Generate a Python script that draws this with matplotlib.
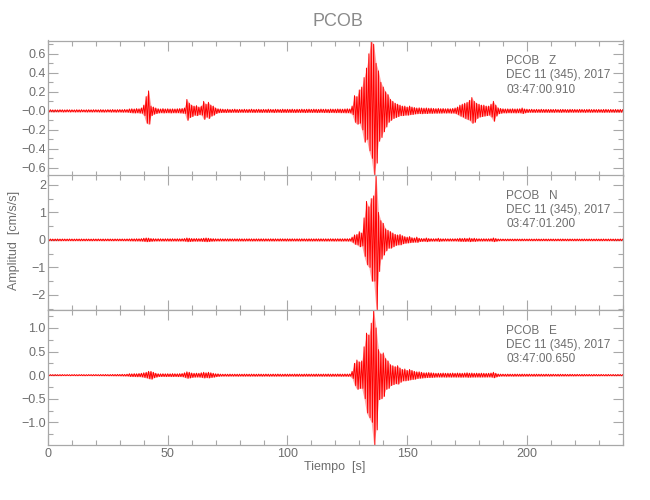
import matplotlib
matplotlib.use('Agg')
import matplotlib.pyplot as plt
from matplotlib.ticker import MultipleLocator, FixedLocator, FixedFormatter
import numpy as np

plt.rcParams['font.family'] = ['Liberation Sans', 'DejaVu Sans']

# ---------------- data ----------------
time_s = list(range(241))  # one envelope sample per second, 0..240 s

z_up = [0.010,0.012,0.010,0.011,0.010,0.012,0.011,0.010,0.012,0.011,
        0.011,0.010,0.012,0.011,0.012,0.010,0.011,0.012,0.011,0.012,
        0.012,0.011,0.013,0.012,0.011,0.013,0.012,0.014,0.012,0.013,
        0.014,0.013,0.015,0.014,0.020,0.022,0.020,0.024,0.022,0.030,
        0.060,0.150,0.210,0.050,0.040,0.030,0.022,0.020,0.024,0.020,
        0.022,0.020,0.021,0.020,0.022,0.024,0.025,0.030,0.120,0.080,
        0.060,0.050,0.055,0.040,0.050,0.100,0.070,0.090,0.060,0.050,
        0.030,0.022,0.020,0.018,0.016,0.018,0.015,0.016,0.018,0.015,
        0.016,0.015,0.017,0.015,0.016,0.018,0.015,0.016,0.017,0.015,
        0.016,0.015,0.018,0.016,0.015,0.017,0.016,0.015,0.018,0.016,
        0.017,0.016,0.018,0.015,0.017,0.016,0.018,0.016,0.017,0.018,
        0.016,0.018,0.017,0.016,0.019,0.017,0.018,0.016,0.019,0.018,
        0.018,0.020,0.019,0.018,0.020,0.022,0.020,0.050,0.160,0.150,
        0.220,0.250,0.350,0.450,0.600,0.740,0.700,0.500,0.420,0.300,
        0.250,0.200,0.170,0.120,0.100,0.080,0.070,0.060,0.050,0.050,
        0.040,0.050,0.040,0.035,0.030,0.032,0.030,0.028,0.030,0.027,
        0.028,0.025,0.024,0.026,0.023,0.025,0.022,0.024,0.022,0.025,
        0.030,0.040,0.060,0.070,0.080,0.090,0.110,0.140,0.100,0.080,
        0.070,0.060,0.060,0.050,0.050,0.070,0.100,0.060,0.030,0.025,
        0.022,0.020,0.021,0.020,0.022,0.020,0.021,0.022,0.030,0.020,
        0.018,0.016,0.017,0.015,0.016,0.015,0.017,0.015,0.016,0.015,
        0.016,0.015,0.016,0.014,0.015,0.016,0.015,0.014,0.016,0.015,
        0.015,0.014,0.016,0.015,0.014,0.015,0.016,0.014,0.015,0.014,
        0.015,0.014,0.015,0.016,0.014,0.015,0.014,0.015,0.014,0.015,
        0.014]
z_lo = [0.011,0.010,0.012,0.010,0.011,0.010,0.012,0.011,0.010,0.012,
        0.010,0.012,0.011,0.012,0.010,0.011,0.012,0.011,0.012,0.011,
        0.011,0.012,0.012,0.013,0.012,0.011,0.013,0.012,0.014,0.012,
        0.013,0.014,0.013,0.015,0.018,0.021,0.022,0.020,0.023,0.025,
        0.050,0.130,0.140,0.050,0.035,0.028,0.022,0.020,0.022,0.020,
        0.020,0.022,0.020,0.021,0.020,0.022,0.024,0.028,0.100,0.070,
        0.060,0.045,0.050,0.040,0.045,0.090,0.065,0.080,0.055,0.045,
        0.028,0.020,0.018,0.017,0.018,0.016,0.017,0.015,0.016,0.017,
        0.015,0.016,0.015,0.017,0.015,0.016,0.017,0.015,0.016,0.017,
        0.015,0.017,0.016,0.015,0.018,0.016,0.015,0.017,0.016,0.017,
        0.016,0.017,0.016,0.018,0.016,0.017,0.016,0.018,0.017,0.016,
        0.017,0.016,0.018,0.017,0.016,0.018,0.017,0.019,0.017,0.018,
        0.019,0.018,0.020,0.019,0.021,0.020,0.022,0.040,0.120,0.140,
        0.130,0.200,0.330,0.300,0.420,0.500,0.680,0.550,0.320,0.280,
        0.220,0.170,0.120,0.100,0.080,0.070,0.060,0.050,0.050,0.045,
        0.045,0.040,0.038,0.032,0.030,0.028,0.030,0.027,0.028,0.025,
        0.026,0.024,0.025,0.023,0.024,0.022,0.023,0.022,0.024,0.023,
        0.028,0.040,0.055,0.065,0.080,0.090,0.100,0.130,0.120,0.080,
        0.065,0.060,0.055,0.050,0.045,0.065,0.110,0.055,0.030,0.025,
        0.021,0.022,0.020,0.021,0.020,0.022,0.020,0.021,0.028,0.021,
        0.017,0.015,0.016,0.016,0.015,0.016,0.015,0.016,0.015,0.016,
        0.015,0.016,0.014,0.015,0.016,0.014,0.015,0.016,0.014,0.015,
        0.014,0.015,0.015,0.014,0.016,0.014,0.015,0.015,0.014,0.015,
        0.014,0.015,0.016,0.014,0.015,0.014,0.015,0.014,0.015,0.014,
        0.015]

n_up = [0.030,0.032,0.030,0.031,0.033,0.030,0.032,0.031,0.030,0.033,
        0.031,0.030,0.032,0.031,0.033,0.030,0.032,0.031,0.030,0.032,
        0.031,0.033,0.030,0.032,0.031,0.033,0.032,0.030,0.033,0.031,
        0.032,0.033,0.031,0.034,0.035,0.040,0.038,0.042,0.040,0.045,
        0.060,0.070,0.065,0.050,0.045,0.040,0.042,0.040,0.038,0.040,
        0.041,0.040,0.042,0.039,0.041,0.040,0.042,0.050,0.070,0.060,
        0.050,0.048,0.050,0.046,0.050,0.060,0.070,0.060,0.050,0.045,
        0.040,0.038,0.040,0.037,0.039,0.038,0.040,0.037,0.039,0.038,
        0.040,0.038,0.037,0.039,0.040,0.038,0.037,0.039,0.038,0.040,
        0.038,0.039,0.037,0.040,0.038,0.039,0.037,0.040,0.039,0.038,
        0.039,0.038,0.040,0.037,0.039,0.038,0.040,0.039,0.037,0.040,
        0.039,0.038,0.040,0.039,0.041,0.038,0.040,0.039,0.041,0.040,
        0.040,0.042,0.041,0.040,0.043,0.042,0.045,0.100,0.180,0.200,
        0.300,0.250,0.800,1.400,1.200,1.500,1.600,2.360,1.000,0.700,
        0.600,0.400,0.350,0.300,0.250,0.200,0.180,0.200,0.150,0.120,
        0.100,0.120,0.080,0.070,0.100,0.060,0.050,0.050,0.070,0.050,
        0.045,0.042,0.045,0.060,0.042,0.040,0.042,0.040,0.041,0.040,
        0.042,0.045,0.060,0.050,0.060,0.050,0.070,0.050,0.060,0.045,
        0.042,0.040,0.042,0.040,0.041,0.045,0.070,0.050,0.035,0.032,
        0.031,0.030,0.032,0.031,0.030,0.032,0.031,0.030,0.032,0.031,
        0.030,0.032,0.031,0.030,0.033,0.031,0.030,0.032,0.031,0.030,
        0.032,0.031,0.030,0.032,0.031,0.033,0.030,0.031,0.032,0.030,
        0.031,0.032,0.030,0.031,0.033,0.030,0.032,0.031,0.030,0.032,
        0.030,0.031,0.032,0.030,0.031,0.032,0.030,0.031,0.030,0.032,
        0.031]
n_lo = [0.031,0.030,0.032,0.030,0.031,0.033,0.030,0.032,0.031,0.030,
        0.032,0.031,0.030,0.033,0.031,0.032,0.030,0.031,0.033,0.030,
        0.032,0.030,0.031,0.033,0.030,0.032,0.031,0.033,0.030,0.032,
        0.031,0.032,0.033,0.032,0.036,0.038,0.040,0.039,0.042,0.044,
        0.055,0.065,0.060,0.050,0.042,0.041,0.040,0.039,0.040,0.038,
        0.040,0.042,0.039,0.041,0.040,0.042,0.040,0.048,0.065,0.058,
        0.052,0.046,0.048,0.047,0.050,0.058,0.065,0.058,0.048,0.044,
        0.039,0.040,0.038,0.039,0.037,0.040,0.038,0.039,0.037,0.040,
        0.038,0.040,0.039,0.037,0.038,0.040,0.039,0.037,0.040,0.038,
        0.040,0.037,0.039,0.038,0.040,0.037,0.039,0.038,0.037,0.040,
        0.038,0.040,0.037,0.039,0.038,0.040,0.037,0.038,0.040,0.039,
        0.040,0.039,0.038,0.041,0.039,0.040,0.041,0.040,0.039,0.042,
        0.041,0.040,0.043,0.042,0.041,0.044,0.043,0.090,0.160,0.180,
        0.250,0.220,0.600,0.900,1.000,1.500,1.500,2.550,1.150,0.700,
        0.550,0.400,0.300,0.300,0.250,0.200,0.180,0.180,0.140,0.120,
        0.110,0.100,0.090,0.080,0.090,0.060,0.055,0.050,0.065,0.050,
        0.044,0.045,0.042,0.055,0.045,0.041,0.040,0.042,0.040,0.041,
        0.040,0.046,0.055,0.052,0.058,0.048,0.065,0.052,0.055,0.044,
        0.041,0.042,0.040,0.041,0.042,0.044,0.065,0.048,0.034,0.031,
        0.030,0.032,0.031,0.030,0.032,0.031,0.030,0.032,0.031,0.030,
        0.031,0.030,0.032,0.031,0.030,0.032,0.031,0.030,0.032,0.031,
        0.030,0.032,0.031,0.030,0.032,0.030,0.031,0.032,0.030,0.031,
        0.032,0.030,0.031,0.032,0.030,0.031,0.030,0.032,0.031,0.030,
        0.031,0.032,0.030,0.031,0.032,0.030,0.031,0.032,0.031,0.030,
        0.032]

e_up = [0.010,0.011,0.010,0.012,0.010,0.011,0.012,0.010,0.011,0.010,
        0.011,0.012,0.010,0.011,0.012,0.011,0.010,0.012,0.011,0.012,
        0.012,0.011,0.013,0.012,0.014,0.012,0.013,0.015,0.014,0.016,
        0.015,0.018,0.016,0.020,0.030,0.028,0.032,0.030,0.035,0.040,
        0.050,0.060,0.080,0.080,0.060,0.040,0.030,0.028,0.030,0.028,
        0.030,0.028,0.032,0.030,0.028,0.032,0.035,0.050,0.070,0.060,
        0.045,0.040,0.042,0.040,0.050,0.060,0.050,0.060,0.050,0.040,
        0.030,0.028,0.022,0.020,0.021,0.020,0.022,0.020,0.021,0.020,
        0.021,0.020,0.022,0.021,0.020,0.022,0.021,0.020,0.022,0.021,
        0.020,0.022,0.021,0.020,0.022,0.021,0.023,0.021,0.020,0.022,
        0.021,0.022,0.020,0.023,0.021,0.022,0.020,0.022,0.023,0.021,
        0.022,0.021,0.023,0.022,0.021,0.023,0.022,0.024,0.022,0.023,
        0.022,0.024,0.023,0.022,0.024,0.023,0.025,0.080,0.250,0.320,
        0.280,0.300,0.600,0.890,0.850,1.100,1.380,1.000,0.540,0.450,
        0.470,0.350,0.300,0.220,0.200,0.180,0.200,0.150,0.120,0.130,
        0.100,0.120,0.100,0.080,0.070,0.070,0.060,0.050,0.050,0.055,
        0.050,0.045,0.040,0.042,0.040,0.045,0.040,0.042,0.040,0.045,
        0.040,0.045,0.042,0.040,0.045,0.050,0.042,0.045,0.040,0.042,
        0.040,0.042,0.040,0.038,0.040,0.045,0.060,0.040,0.025,0.022,
        0.021,0.020,0.022,0.021,0.020,0.022,0.021,0.020,0.022,0.021,
        0.020,0.021,0.019,0.020,0.021,0.019,0.020,0.018,0.020,0.019,
        0.018,0.019,0.017,0.018,0.019,0.017,0.018,0.016,0.018,0.017,
        0.016,0.017,0.015,0.016,0.017,0.015,0.016,0.014,0.016,0.015,
        0.014,0.015,0.013,0.014,0.015,0.013,0.014,0.012,0.014,0.013,
        0.012]
e_lo = [0.011,0.010,0.012,0.010,0.011,0.012,0.010,0.011,0.010,0.012,
        0.010,0.011,0.012,0.010,0.011,0.012,0.011,0.010,0.012,0.011,
        0.011,0.012,0.012,0.013,0.012,0.014,0.013,0.014,0.015,0.014,
        0.016,0.017,0.018,0.019,0.028,0.030,0.030,0.033,0.032,0.038,
        0.048,0.058,0.075,0.085,0.055,0.042,0.030,0.029,0.028,0.030,
        0.028,0.030,0.030,0.028,0.031,0.030,0.034,0.048,0.065,0.058,
        0.048,0.042,0.040,0.042,0.048,0.058,0.052,0.058,0.048,0.042,
        0.032,0.026,0.021,0.021,0.020,0.022,0.020,0.021,0.020,0.022,
        0.020,0.021,0.021,0.020,0.022,0.020,0.022,0.021,0.020,0.022,
        0.021,0.020,0.022,0.021,0.021,0.022,0.020,0.022,0.021,0.021,
        0.022,0.020,0.021,0.022,0.022,0.021,0.023,0.021,0.022,0.022,
        0.021,0.023,0.022,0.021,0.023,0.022,0.023,0.022,0.024,0.022,
        0.023,0.022,0.024,0.023,0.023,0.024,0.024,0.070,0.220,0.300,
        0.280,0.280,0.500,0.800,0.900,1.000,1.480,1.160,0.520,0.500,
        0.450,0.300,0.280,0.220,0.200,0.180,0.190,0.150,0.120,0.120,
        0.110,0.100,0.090,0.085,0.070,0.065,0.060,0.055,0.050,0.050,
        0.048,0.045,0.042,0.040,0.042,0.040,0.043,0.040,0.042,0.040,
        0.042,0.040,0.044,0.042,0.040,0.046,0.044,0.042,0.041,0.040,
        0.042,0.040,0.041,0.040,0.038,0.042,0.055,0.038,0.024,0.021,
        0.020,0.022,0.021,0.020,0.022,0.021,0.020,0.022,0.021,0.020,
        0.021,0.019,0.020,0.021,0.019,0.020,0.019,0.020,0.018,0.020,
        0.019,0.017,0.018,0.019,0.017,0.018,0.017,0.018,0.016,0.017,
        0.017,0.015,0.016,0.017,0.015,0.016,0.015,0.016,0.014,0.015,
        0.015,0.013,0.014,0.015,0.013,0.014,0.013,0.014,0.012,0.013,
        0.013]

components = ["Z", "N", "E"]
start_times = ["03:47:00.910", "03:47:01.200", "03:47:00.650"]
station = "PCOB"
date_label = "DEC 11 (345), 2017"
y_limits = [(-0.68, 0.74), (-2.55, 2.36), (-1.48, 1.38)]
y_major_ticks = [[-0.6, -0.4, -0.2, 0.0, 0.2, 0.4, 0.6],
                 [-2, -1, 0, 1, 2],
                 [-1.0, -0.5, 0.0, 0.5, 1.0]]
y_tick_labels = [["\u22120.6", "\u22120.4", "\u22120.2", "\u22120.0", "0.2", "0.4", "0.6"],
                 ["\u22122", "\u22121", "0", "1", "2"],
                 ["\u22121.0", "\u22120.5", "0.0", "0.5", "1.0"]]
y_minor_step = [0.1, 0.5, 0.25]
x_major_ticks = [0, 50, 100, 150, 200]
x_tick_labels = ["0", "50", "100", "150", "200"]

# ---------------- drawing ----------------
AX_COL = "#a8a8a8"
TXT_COL = "#6e6e6e"
RED = "#ff0000"

fig = plt.figure(figsize=(6.5, 5.0), dpi=100)
left, width = 48 / 650, (622.7 - 48) / 650
tops = [40.5, 175, 310]
h = 135

series = [(z_up, z_lo), (n_up, n_lo), (e_up, e_lo)]
for i in range(3):
    bottom = 1 - (tops[i] + h) / 500
    ax = fig.add_axes([left, bottom, width, h / 500])
    up, lo = series[i]
    t = np.asarray(time_s, float)
    upa = np.asarray(up)
    loa = -np.asarray(lo)
    # light envelope fill
    ax.fill_between(t, loa, upa, color=RED, alpha=0.35, lw=0)
    # oscillating trace between the envelope values
    xs = np.empty(2 * len(t))
    ys = np.empty(2 * len(t))
    xs[0::2] = t
    xs[1::2] = t + 0.5
    ys[0::2] = upa
    ys[1::2] = loa
    ax.plot(xs, ys, color=RED, lw=0.7)

    ax.set_xlim(0, 240)
    ax.set_ylim(*y_limits[i])
    ax.xaxis.set_major_locator(FixedLocator(x_major_ticks))
    ax.xaxis.set_minor_locator(MultipleLocator(10))
    ax.yaxis.set_major_locator(FixedLocator(y_major_ticks[i]))
    ax.yaxis.set_major_formatter(FixedFormatter(y_tick_labels[i]))
    ax.yaxis.set_minor_locator(MultipleLocator(y_minor_step[i]))
    if i == 2:
        ax.xaxis.set_major_formatter(FixedFormatter(x_tick_labels))
    else:
        ax.set_xticklabels([])
    ax.tick_params(which="both", direction="in", top=True, right=True,
                   color=AX_COL, labelcolor=TXT_COL, labelsize=9, width=0.8)
    ax.tick_params(which="major", length=7)
    ax.tick_params(which="minor", length=3.5)
    ax.tick_params(axis="y", pad=1.5)
    ax.tick_params(axis="x", pad=2)
    for s in ax.spines.values():
        s.set_color(AX_COL)
        s.set_linewidth(0.9)

    ax.text(0.797, 0.845, f"{station}   {components[i]}", transform=ax.transAxes,
            color=TXT_COL, fontsize=8.5, va="center", ha="left")
    ax.text(0.797, 0.742, date_label, transform=ax.transAxes,
            color=TXT_COL, fontsize=8.5, va="center", ha="left")
    ax.text(0.797, 0.635, start_times[i], transform=ax.transAxes,
            color=TXT_COL, fontsize=8.5, va="center", ha="left")

fig.text(338 / 650, 1 - 22 / 500, station, color="#8a8a8a", fontsize=13,
         ha="center", va="center")
fig.text(14 / 650, 1 - 240 / 500, "Amplitud  [cm/s/s]", color=TXT_COL,
         fontsize=9, rotation=90, ha="center", va="center")
fig.text(335 / 650, 1 - 467 / 500, "Tiempo  [s]", color=TXT_COL,
         fontsize=9, ha="center", va="center")

fig.savefig("out.png", dpi=100)
